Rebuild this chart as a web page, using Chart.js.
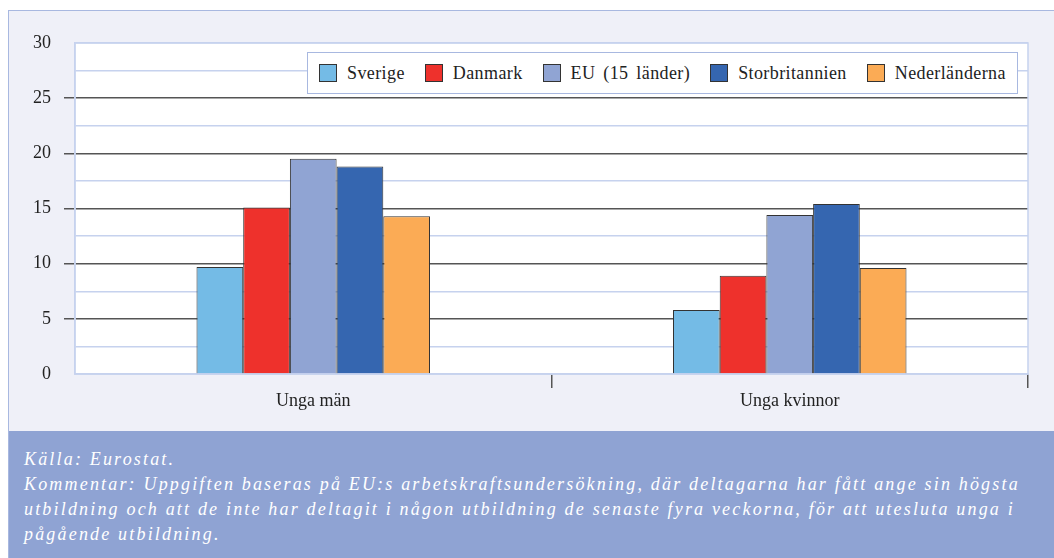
<!DOCTYPE html>
<html>
<head>
<meta charset="utf-8">
<script src="https://cdn.jsdelivr.net/npm/chart.js@4.4.1/dist/chart.umd.min.js"></script>
<style>
  html, body { margin: 0; padding: 0; background: #fff; overflow: hidden; }
  body { width: 1054px; height: 558px; position: relative; font-family: "Liberation Serif", "Times New Roman", serif; }
  #frame {
    position: absolute; left: 8px; top: 10px; width: 1060px; height: 420px;
    background: #eff0f8; border-top: 1px solid #a8b8e0; border-left: 1px solid #a8b8e0;
  }
  #chart { position: absolute; left: 0; top: 0; }
  #legend {
    position: absolute; left: 307px; top: 52px; height: 40px;
    background: #fff; border: 1px solid #a8b8e0;
    display: flex; align-items: center; padding: 0 11px;
    font-size: 18px; color: #222; white-space: nowrap;
    letter-spacing: 0.4px; word-spacing: 3px;
  }
  #legend .item { display: flex; align-items: center; margin-right: 20px; }
  #legend .item:last-child { margin-right: 0; }
  #legend .sw { width: 16px; height: 16px; border: 1px solid #333; margin-right: 10px; }
  #note {
    position: absolute; left: 8px; top: 431px; width: 1046px; height: 127px;
    background: #8fa3d3; border-left: 1px solid #a8b8e0; box-sizing: border-box;
    padding: 16px 0 0 15px;
    color: #fff; font-style: italic; font-size: 18px; line-height: 25px;
    letter-spacing: 2.18px; white-space: nowrap;
  }
</style>
</head>
<body>
<div id="frame"></div>
<canvas id="chart" width="1054" height="431"></canvas>
<div id="legend"></div>
<div id="note">Källa: Eurostat.<br>Kommentar: Uppgiften baseras på EU:s arbetskraftsundersökning, där deltagarna har fått ange sin högsta<br>utbildning och att de inte har deltagit i någon utbildning de senaste fyra veckorna, för att utesluta unga i<br>pågående utbildning.</div>
<script>
/* ===== DATA ===== */
const categories = ["Unga män", "Unga kvinnor"];
const seriesNames = ["Sverige", "Danmark", "EU (15 länder)", "Storbritannien", "Nederländerna"];
const sverige = [9.7, 5.8];
const danmark = [15.1, 8.9];
const eu15 = [19.5, 14.4];
const storbritannien = [18.8, 15.4];
const nederlanderna = [14.3, 9.6];
const yTicks = [0, 5, 10, 15, 20, 25, 30];

const colors = ["#74bbe6", "#ee312c", "#90a4d3", "#3566b0", "#fbab55"];
const seriesValues = [sverige, danmark, eu15, storbritannien, nederlanderna];

const GRID_DARK = "#555555";
const GRID_LIGHT = "#c6d2ee";
const isMajor = v => v % 5 === 0 && v > 0 && v < 30;

/* ===== plot background ===== */
const plotBox = {
  id: "plotBox",
  beforeDraw(chart) {
    const { ctx, chartArea: a } = chart;
    ctx.save();
    ctx.fillStyle = "#ffffff";
    ctx.fillRect(a.left, a.top, a.right - a.left, a.bottom - a.top);
    ctx.restore();
  },
  beforeDatasetsDraw(chart) {
    const { ctx, chartArea: a } = chart;
    ctx.save();
    ctx.strokeStyle = GRID_LIGHT;
    ctx.lineWidth = 1.5;
    ctx.strokeRect(a.left, a.top, a.right - a.left, a.bottom - a.top);
    ctx.restore();
  }
};

const datasets = seriesNames.map((name, i) => ({
  label: name,
  data: seriesValues[i],
  backgroundColor: colors[i],
  borderColor: "#333333",
  borderWidth: 1,
  barPercentage: 1,
  categoryPercentage: 0.49
}));

new Chart(document.getElementById("chart"), {
  type: "bar",
  data: { labels: categories, datasets },
  options: {
    responsive: false,
    animation: false,
    layout: { padding: { top: 43, right: 26, left: 0, bottom: 0 } },
    plugins: { legend: { display: false }, tooltip: { enabled: false } },
    scales: {
      x: {
        afterFit: s => { s.height = 57; },
        grid: {
          drawOnChartArea: false,
          offset: true,
          tickLength: 14,
          tickColor: c => (c.index === 0 ? "rgba(0,0,0,0)" : GRID_DARK),
          lineWidth: 1.5
        },
        border: { color: GRID_LIGHT, width: 1.5 },
        ticks: {
          color: "#222",
          padding: 2,
          font: { family: "Liberation Serif", size: 18 }
        }
      },
      y: {
        min: 0,
        max: 30,
        afterFit: s => { s.width = 75; },
        afterBuildTicks: s => {
          const t = [];
          for (let v = 0; v <= 30; v += 2.5) t.push({ value: v });
          s.ticks = t;
        },
        grid: {
          color: c => (isMajor(c.tick.value) ? GRID_DARK : GRID_LIGHT),
          lineWidth: 1.5,
          tickLength: 11,
          tickColor: c => (isMajor(c.tick.value) ? GRID_DARK : "rgba(0,0,0,0)")
        },
        border: { color: GRID_LIGHT, width: 1.5 },
        ticks: {
          color: "#222",
          padding: 13,
          autoSkip: false,
          font: { family: "Liberation Serif", size: 18 },
          callback: v => (yTicks.includes(v) ? String(v) : "")
        }
      }
    }
  },
  plugins: [plotBox]
});

/* ===== LEGEND ===== */
const legend = document.getElementById("legend");
seriesNames.forEach((name, i) => {
  const item = document.createElement("div");
  item.className = "item";
  item.innerHTML = '<span class="sw" style="background:' + colors[i] + '"></span><span>' + name + "</span>";
  legend.appendChild(item);
});
</script>
</body>
</html>
